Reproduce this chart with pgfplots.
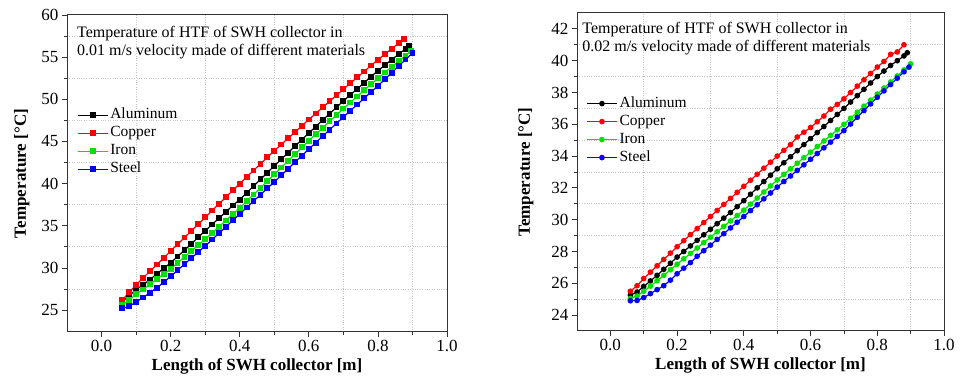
\documentclass[border=0pt]{standalone}
\usepackage{fontspec}
\setmainfont{Liberation Serif}
\usepackage{pgfplots}
\usepackage{pgfplotstable}
\pgfplotsset{compat=1.18}
\definecolor{cAl}{RGB}{0,0,0}
\definecolor{cCu}{RGB}{255,0,0}
\definecolor{cFe}{RGB}{0,225,0}
\definecolor{cSt}{RGB}{0,0,255}

\pgfplotstableread{
x y
0.06 26.0
0.08 26.7
0.10 27.4
0.12 28.0
0.14 28.6
0.16 29.3
0.18 29.95
0.20 30.6
0.22 31.35
0.24 32.1
0.26 32.85
0.28 33.65
0.30 34.4
0.32 35.15
0.34 35.9
0.36 36.65
0.38 37.4
0.40 38.1
0.42 38.9
0.44 39.7
0.46 40.5
0.48 41.3
0.50 42.1
0.52 42.88
0.54 43.66
0.56 44.44
0.58 45.22
0.60 46.0
0.62 46.76
0.64 47.52
0.66 48.28
0.68 49.04
0.70 49.8
0.72 50.52
0.74 51.24
0.76 51.96
0.78 52.68
0.80 53.4
0.82 54.05
0.84 54.7
0.86 55.35
0.88 55.98
0.89 56.3
}\LAl
\pgfplotstableread{
x y
0.06 26.2
0.08 27.1
0.10 28.0
0.12 28.8
0.14 29.6
0.16 30.4
0.18 31.2
0.20 32.0
0.22 32.8
0.24 33.6
0.26 34.4
0.28 35.2
0.30 36.0
0.32 36.8
0.34 37.6
0.36 38.4
0.38 39.2
0.40 40.0
0.42 40.78
0.44 41.56
0.46 42.34
0.48 43.12
0.50 43.9
0.52 44.64
0.54 45.38
0.56 46.12
0.58 46.86
0.60 47.6
0.62 48.32
0.64 49.04
0.66 49.76
0.68 50.48
0.70 51.2
0.72 51.9
0.74 52.6
0.76 53.3
0.78 54.0
0.80 54.7
0.82 55.35
0.84 56.0
0.86 56.65
0.875 57.2
}\LCu
\pgfplotstableread{
x y
0.06 25.6
0.08 26.2
0.10 26.9
0.12 27.45
0.14 28.05
0.16 28.7
0.18 29.3
0.20 29.9
0.22 30.6
0.24 31.3
0.26 32.0
0.28 32.7
0.30 33.4
0.32 34.14
0.34 34.88
0.36 35.62
0.38 36.36
0.40 37.1
0.42 37.9
0.44 38.7
0.46 39.5
0.48 40.3
0.50 41.1
0.52 41.9
0.54 42.7
0.56 43.5
0.58 44.3
0.60 45.1
0.62 45.86
0.64 46.62
0.66 47.38
0.68 48.14
0.70 48.9
0.72 49.62
0.74 50.34
0.76 51.06
0.78 51.78
0.80 52.5
0.82 53.17
0.84 53.84
0.86 54.51
0.88 55.18
0.895 55.7
}\LFe
\pgfplotstableread{
x y
0.06 25.2
0.08 25.45
0.10 25.95
0.12 26.5
0.14 27.05
0.16 27.65
0.18 28.3
0.20 29.0
0.22 29.72
0.24 30.44
0.26 31.16
0.28 31.88
0.30 32.6
0.32 33.36
0.34 34.12
0.36 34.88
0.38 35.64
0.40 36.4
0.42 37.16
0.44 37.92
0.46 38.68
0.48 39.44
0.50 40.2
0.52 40.98
0.54 41.76
0.56 42.54
0.58 43.32
0.60 44.1
0.62 44.86
0.64 45.62
0.66 46.38
0.68 47.14
0.70 47.9
0.72 48.64
0.74 49.38
0.76 50.12
0.78 50.86
0.80 51.6
0.82 52.38
0.84 53.16
0.86 53.94
0.88 54.72
0.90 55.5
}\LSt

\pgfplotstableread{
x y
0.06 25.25
0.08 25.45
0.10 25.8
0.12 26.15
0.14 26.5
0.16 26.88
0.18 27.26
0.20 27.65
0.22 28.0
0.24 28.35
0.26 28.7
0.28 29.05
0.30 29.4
0.32 29.75
0.34 30.1
0.36 30.45
0.38 30.82
0.40 31.2
0.42 31.6
0.44 32.0
0.46 32.4
0.48 32.8
0.50 33.2
0.52 33.58
0.54 33.96
0.56 34.34
0.58 34.72
0.60 35.1
0.62 35.48
0.64 35.86
0.66 36.24
0.68 36.62
0.70 37.0
0.72 37.4
0.74 37.8
0.76 38.2
0.78 38.6
0.80 39.0
0.82 39.35
0.84 39.7
0.86 40.0
0.88 40.3
0.89 40.5
}\RAl
\pgfplotstableread{
x y
0.06 25.5
0.08 25.85
0.10 26.3
0.12 26.7
0.14 27.1
0.16 27.5
0.18 27.9
0.20 28.3
0.22 28.68
0.24 29.06
0.26 29.44
0.28 29.82
0.30 30.2
0.32 30.58
0.34 30.96
0.36 31.34
0.38 31.72
0.40 32.1
0.42 32.48
0.44 32.86
0.46 33.24
0.48 33.62
0.50 34.0
0.52 34.36
0.54 34.72
0.56 35.2
0.58 35.5
0.60 35.8
0.62 36.16
0.64 36.52
0.66 36.95
0.68 37.25
0.70 37.6
0.72 38.0
0.74 38.4
0.76 38.8
0.78 39.2
0.80 39.6
0.82 39.95
0.84 40.4
0.86 40.55
0.88 41.0
}\RCu
\pgfplotstableread{
x y
0.06 25.05
0.08 25.2
0.10 25.5
0.12 25.82
0.14 26.16
0.16 26.5
0.18 26.85
0.20 27.2
0.22 27.54
0.24 27.88
0.26 28.22
0.28 28.56
0.30 28.9
0.32 29.24
0.34 29.58
0.36 29.92
0.38 30.26
0.40 30.6
0.42 30.98
0.44 31.36
0.46 31.74
0.48 32.12
0.50 32.5
0.52 32.85
0.54 33.2
0.56 33.55
0.58 33.9
0.60 34.25
0.62 34.6
0.64 34.95
0.66 35.3
0.68 35.65
0.70 36.0
0.72 36.38
0.74 36.76
0.76 37.14
0.78 37.52
0.80 37.9
0.82 38.28
0.84 38.66
0.86 39.04
0.88 39.42
0.90 39.8
}\RFe
\pgfplotstableread{
x y
0.06 24.9
0.08 24.92
0.10 25.1
0.12 25.35
0.14 25.6
0.16 25.85
0.18 26.2
0.20 26.6
0.22 26.95
0.24 27.3
0.26 27.7
0.28 28.05
0.30 28.4
0.32 28.76
0.34 29.12
0.36 29.48
0.38 29.84
0.40 30.2
0.42 30.57
0.44 30.94
0.46 31.31
0.48 31.68
0.50 32.05
0.52 32.4
0.54 32.75
0.56 33.1
0.58 33.45
0.60 33.8
0.62 34.16
0.64 34.52
0.66 34.88
0.68 35.24
0.70 35.6
0.72 36.02
0.74 36.44
0.76 36.86
0.78 37.28
0.80 37.7
0.82 38.1
0.84 38.5
0.86 38.9
0.88 39.3
0.895 39.6
}\RSt

\pgfplotsset{
  myax/.style={
    scale only axis,
    axis line style={line width=1pt, black!80},
    tick align=outside,
    xtick pos=bottom, ytick pos=left,
    major tick length=5pt, minor tick length=3pt,
    every tick/.style={black!80, line width=0.8pt},
    minor x tick num=1, minor y tick num=1,
    xminorgrids=true, yminorgrids=true,
    minor grid style={dotted, gray!45, line width=0.7pt},
    xmin=-0.1, xmax=1.0,
    xtick={0,0.2,0.4,0.6,0.8,1.0},
    /pgf/number format/assume math mode=true,
    xticklabel={\pgfmathprintnumber[fixed,fixed zerofill,precision=1]{\tick}},
    yticklabel={\pgfmathprintnumber[fixed,precision=0]{\tick}},
    tick label style={font=\fontsize{17}{19}\selectfont},
    label style={font=\fontsize{17}{20}\selectfont\bfseries},
    xlabel={Length of SWH collector [m]},
    ylabel={Temperature [°C]},
    legend cell align=left,
    legend style={draw=none, fill=none, anchor=north west, inner sep=0pt,
      font=\fontsize{15.5}{17}\selectfont, row sep=0pt,
      nodes={text height=10.5pt, text depth=3.5pt, inner sep=2pt}},
    legend image code/.code={\draw[mark repeat=2,mark phase=2,##1] plot coordinates {(0pt,0pt) (15pt,0pt) (30pt,0pt)};},
    every axis plot/.append style={line width=1.2pt},
  }
}

\begin{document}
\begin{tikzpicture}
\path[use as bounding box] (0pt,0pt) rectangle (966pt,379pt);
\begin{axis}[myax, at={(67pt,47pt)}, anchor=south west, width=380pt, height=317pt,
  ymin=22.4, ymax=60, ytick={25,30,...,60},
  ylabel style={yshift=5pt},
  legend style={at={(0.026,0.713)}},
  every axis plot/.append style={mark=square*, mark size=2.3pt}]
\addplot[cAl, mark options={fill=cAl}] table {\LAl};
\addplot[cCu, mark options={fill=cCu}] table {\LCu};
\addplot[cFe, mark options={fill=cFe}] table {\LFe};
\addplot[cSt, mark options={fill=cSt}] table {\LSt};
\legend{Aluminum,Copper,Iron,Steel}
\node[anchor=north west, align=left, inner sep=0pt, font=\fontsize{16}{18}\selectfont] at (rel axis cs:0.026,0.965) {Temperature of HTF of SWH collector in\\0.01 m/s velocity made of different materials};
\end{axis}
\begin{axis}[myax, at={(577pt,48pt)}, anchor=south west, width=367pt, height=318pt,
  ymin=23, ymax=43, ytick={24,26,...,42},
  ylabel style={yshift=11pt},
  legend style={at={(0.025,0.744)}},
  every axis plot/.append style={mark=*, mark size=2.2pt}]
\addplot[cAl, mark options={fill=cAl}] table {\RAl};
\addplot[cCu, mark options={fill=cCu}] table {\RCu};
\addplot[cFe, mark options={fill=cFe}] table {\RFe};
\addplot[cSt, mark options={fill=cSt}] table {\RSt};
\legend{Aluminum,Copper,Iron,Steel}
\node[anchor=north west, align=left, inner sep=0pt, font=\fontsize{16}{18}\selectfont] at (rel axis cs:0.014,0.97) {Temperature of HTF of SWH collector in\\0.02 m/s velocity made of different materials};
\end{axis}
\end{tikzpicture}
\end{document}
